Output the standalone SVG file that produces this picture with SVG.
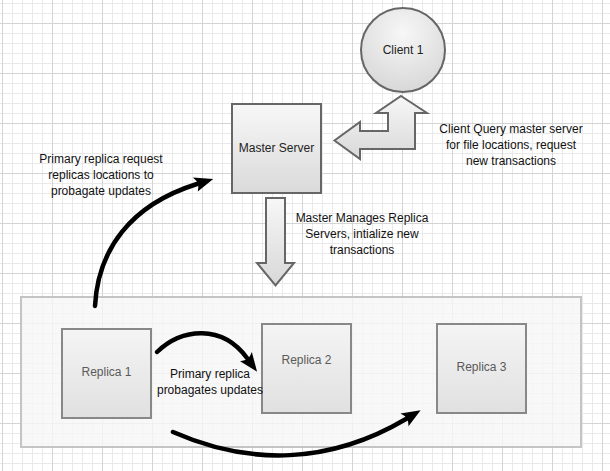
<svg xmlns="http://www.w3.org/2000/svg" width="610" height="471" viewBox="0 0 610 471">
<style>
.lbl{font-family:"Liberation Sans",Arial,sans-serif;font-size:12px;fill:#111;text-anchor:middle}
.nodetxt{font-family:"Liberation Sans",Arial,sans-serif;font-size:12px;fill:#222;text-anchor:middle}
.reptxt{font-family:"Liberation Sans",Arial,sans-serif;font-size:12px;fill:#5a5a5a;text-anchor:middle}
.box{fill:url(#boxGrad);stroke:#666;stroke-width:2}
.rep{fill:url(#repGrad);stroke:#888;stroke-width:2}
.bigArrow{fill:url(#arrGrad);stroke:#666;stroke-width:2;stroke-linejoin:miter}
.sketch{fill:none;stroke:#000;stroke-width:4.5;stroke-linecap:round}
</style>
<defs>
<pattern id="minor" patternUnits="userSpaceOnUse" x="2" y="3" width="10" height="10">
<path d="M0.5 0V10M0 0.5H10" stroke="#e9e9e9" stroke-width="1" fill="none"/>
</pattern>
<pattern id="major" patternUnits="userSpaceOnUse" x="2" y="23" width="50" height="50">
<path d="M0.5 0V50M0 0.5H50" stroke="#d4d4d4" stroke-width="1" fill="none"/>
</pattern>
<linearGradient id="boxGrad" x1="0" y1="0" x2="0" y2="1">
<stop offset="0" stop-color="#f7f7f7"/>
<stop offset="1" stop-color="#dadada"/>
</linearGradient>
<linearGradient id="repGrad" x1="0" y1="0" x2="0" y2="1">
<stop offset="0" stop-color="#f4f4f4" stop-opacity="0.9"/>
<stop offset="1" stop-color="#dedede" stop-opacity="0.9"/>
</linearGradient>
<linearGradient id="arrGrad" x1="0" y1="0" x2="0" y2="1">
<stop offset="0" stop-color="#f7f7f7"/>
<stop offset="1" stop-color="#d8d8d8"/>
</linearGradient>
<radialGradient id="circGrad" cx="0.5" cy="0.3" r="0.7">
<stop offset="0" stop-color="#f7f7f7"/>
<stop offset="1" stop-color="#d8d8d8"/>
</radialGradient>
<marker id="head" markerUnits="userSpaceOnUse" markerWidth="24" markerHeight="24" refX="5" refY="12" orient="auto" viewBox="0 0 24 24">
<path d="M22 12L3 4.5Q6 9 6 12Q6 15 3.5 19.5Z" fill="#000"/>
</marker>
</defs>
<rect width="610" height="471" fill="#fff"/>
<rect width="610" height="471" fill="url(#minor)"/>
<rect width="610" height="471" fill="url(#major)"/>

<g id="replica-group">
<rect x="21" y="297" width="560" height="150" fill="#f6f6f6" fill-opacity="0.8" stroke="#c4c4c4" stroke-width="2"/>
</g>

<g id="client1">
<circle cx="403" cy="50" r="42" fill="url(#circGrad)" stroke="#666" stroke-width="2"/>
<text class="nodetxt" x="403" y="54">Client 1</text>
</g>

<g id="master-server">
<rect class="box" x="232" y="104" width="89" height="89"/>
<text class="nodetxt" x="276.5" y="152">Master Server</text>
</g>

<g id="replica1">
<rect class="rep" x="62" y="329" width="89" height="89"/>
<text class="reptxt" x="106.5" y="376">Replica 1</text>
</g>
<g id="replica2">
<rect class="rep" x="262" y="324" width="89" height="89"/>
<text class="reptxt" x="306.5" y="364">Replica 2</text>
</g>
<g id="replica3">
<rect class="rep" x="437" y="324" width="89" height="89"/>
<text class="reptxt" x="481.5" y="371">Replica 3</text>
</g>

<g id="connectors">
<path class="bigArrow" d="M401 96L427 113H415V149H360V159L334.5 140.5L360 122V131H388V113H376Z"/>
<path class="bigArrow" d="M266 198H285V263H294L275.5 285.5L257 263H266Z"/>
<path class="sketch" d="M95 306C98 250 130 205 197 184" marker-end="url(#head)"/>
<path class="sketch" d="M157 352C182 328 222 324 247 358" marker-end="url(#head)"/>
<path class="sketch" d="M173 432C250 466 330 464 406 419" marker-end="url(#head)"/>
</g>

<g id="labels">
<text class="lbl" x="101" y="163">Primary replica request</text>
<text class="lbl" x="101" y="179">replicas locations to</text>
<text class="lbl" x="101" y="195">probagate updates</text>
<text class="lbl" x="362" y="222">Master Manages Replica</text>
<text class="lbl" x="362" y="238">Servers, intialize new</text>
<text class="lbl" x="362" y="254">transactions</text>
<text class="lbl" x="511" y="133">Client Query master server</text>
<text class="lbl" x="511" y="149">for file locations, request</text>
<text class="lbl" x="511" y="165">new transactions</text>
<text class="lbl" x="210" y="378">Primary replica</text>
<text class="lbl" x="210" y="394">probagates updates</text>
</g>
</svg>
